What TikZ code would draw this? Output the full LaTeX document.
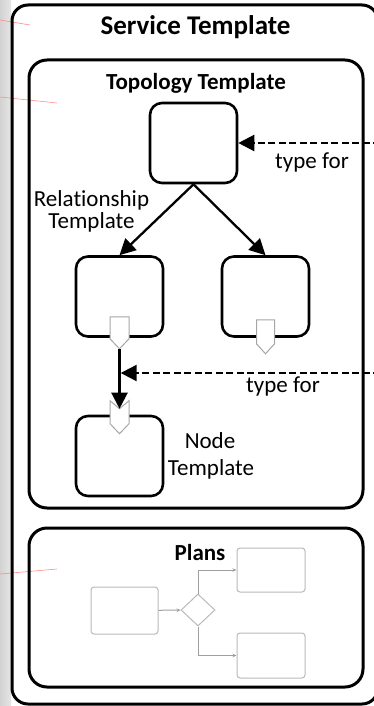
\documentclass[tikz,border=0pt]{standalone}
\usepackage{fontspec}
\setmainfont[Ligatures=NoCommon]{Carlito}
\usetikzlibrary{arrows.meta,shapes.geometric}

\begin{document}
\begin{tikzpicture}[x=1pt,y=-1pt,
		frame/.style={draw,line width=3pt,rounded corners=18pt,inner sep=0pt},
		tpl/.style={draw,line width=2.6pt,rounded corners=12pt,minimum width=87pt,minimum height=80pt,inner sep=0pt},
		port/.style={draw=gray!70,fill=white,line width=1pt},
		rel/.style={line width=2.3pt,-{Triangle[length=16pt,width=16pt]}},
		typefor/.style={line width=2.3pt,dash pattern=on 7pt off 3.5pt,-{Triangle[length=16pt,width=16pt]}},
		plbox/.style={draw=gray!55,line width=1pt,rounded corners=3pt,inner sep=0pt},
		plflow/.style={draw=gray!75,line width=1pt,-{Stealth[length=4pt,width=3.5pt]}},
		lbl/.style={font=\fontsize{23}{26}\selectfont,anchor=base},
		ttl/.style={font=\bfseries\fontsize{23}{26}\selectfont,anchor=base}]
	\useasboundingbox (0,0) rectangle (374,706);
	\clip (0,0) rectangle (374,706);
	% margin
		\fill[left color=gray!35,right color=gray!20] (0,0) rectangle (11,706);
		\draw[red!45,line width=0.6pt] (0,20) -- (30,25);
		\draw[red!45,line width=0.6pt] (0,97) -- (57,103);
		\draw[red!45,line width=0.6pt] (0,574) -- (57,569);
	% frames
		\node[frame,rounded corners=16pt,minimum width=366pt,minimum height=699pt] (service) at (195,354.5) {};
		\node[frame,minimum width=334pt,minimum height=448pt] (topology) at (196,284) {};
		\node[frame,minimum width=334pt,minimum height=159pt] (plans) at (196,607.5) {};
		\node[ttl,font=\bfseries\fontsize{27}{30}\selectfont] (servicettl) at (195.5,35) {Service Template};
		\node[ttl] (topologyttl) at (196,90) {Topology Template};
		\node[ttl] (planttl) at (200,560) {Plans};
	% templates
		\node[tpl] (tnode) at (193.5,143) {};
		\node[tpl] (lnode) at (119.5,296.5) {};
		\node[tpl] (rnode) at (265.5,296.5) {};
		\node[tpl] (bnode) at (119.5,456) {};
	% ports
		\draw[port] (lnode.south) ++(-9.5,-21) -- ++(19,0) -- ++(0,22) -- ++(-9.5,10) coordinate (lout) -- ++(-9.5,-10) -- cycle;
		\draw[port] (rnode.south) ++(-9,-18) -- ++(18,0) -- ++(0,24) -- ++(-9,10) -- ++(-9,-10) -- cycle;
		\draw[port] (bnode.north) ++(-9.5,-14) -- ++(9.5,8) coordinate (bin) -- ++(9.5,-8) -- ++(0,23) -- ++(-9.5,10) -- ++(-9.5,-10) -- cycle;
	% relationships
		\draw[rel] (tnode.south) -- (lnode.north);
		\draw[rel] (tnode.south) -- (rnode.north);
		\draw[rel] (lout) -- (bin);
		\coordinate (relmid) at (120.7,373);
	% types
		\coordinate (ntypes) at (380,143);
		\coordinate (rtypes) at (380,373);
		\draw[typefor] (ntypes) -- (tnode.east);
		\draw[typefor] (rtypes) -- (relmid);
		\node[lbl] (typeforA) at (312,168) {type for};
		\node[lbl] (typeforB) at (283,392) {type for};
	% labels
		\node[lbl] (relttlA) at (91.5,206) {Relationship};
		\node[lbl] (relttlB) at (91.5,228) {Template};
		\node[lbl] (nodettlA) at (210,448) {Node};
		\node[lbl] (nodettlB) at (211,475) {Template};
	% plan
		\node[plbox,minimum width=67pt,minimum height=47pt] (plstart) at (124.5,610.5) {};
		\node[draw=gray!55,line width=1pt,diamond,minimum width=34pt,minimum height=32pt,inner sep=0pt] (pldec) at (198,610) {};
		\node[plbox,minimum width=68pt,minimum height=44pt] (plup) at (271,570) {};
		\node[plbox,minimum width=68pt,minimum height=45pt] (pldown) at (271,655.5) {};
		\draw[plflow] (plstart) -- (pldec);
		\draw[plflow] (pldec.north) |- (plup.west);
		\draw[plflow] (pldec.south) |- (pldown.west);
\end{tikzpicture}
\end{document}
